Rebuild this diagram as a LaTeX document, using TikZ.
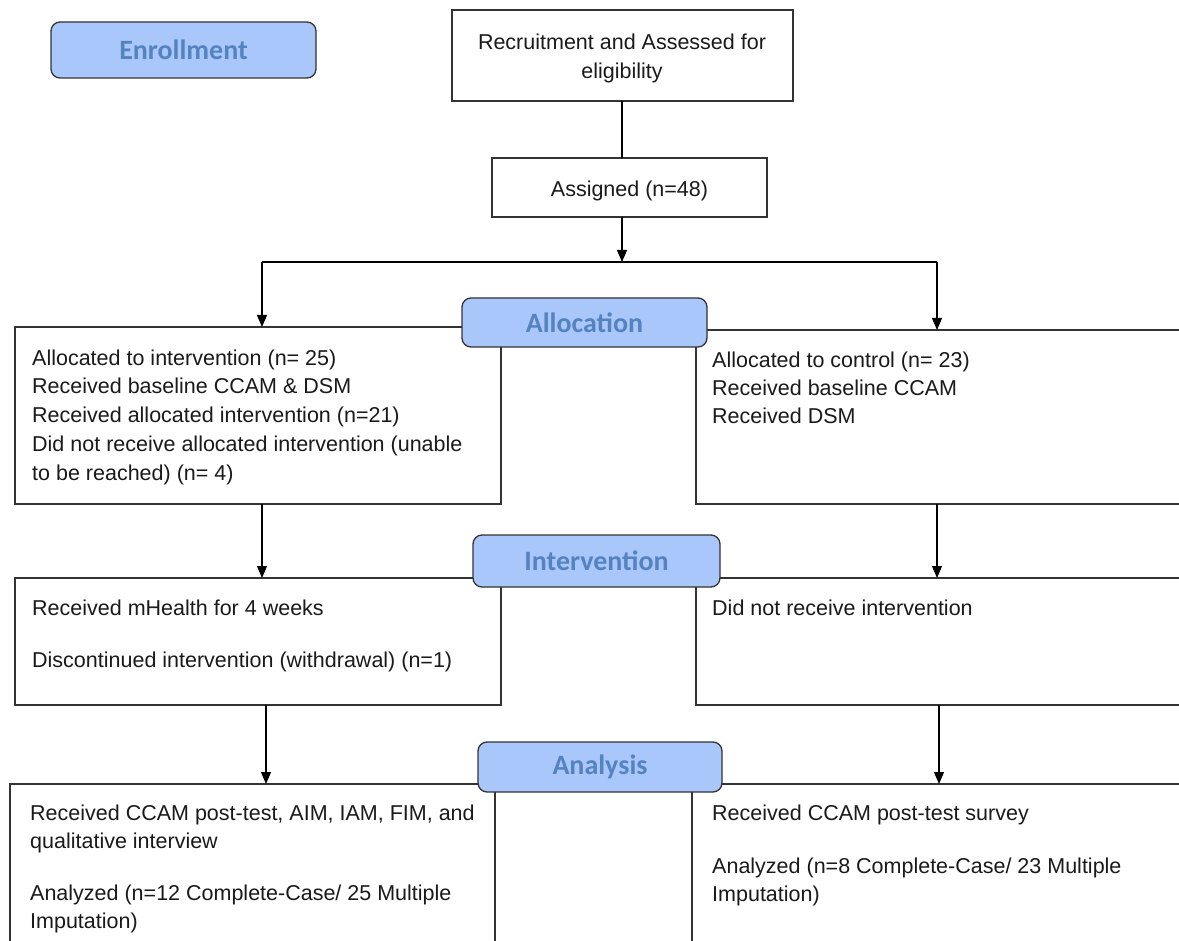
\documentclass[tikz,border=0pt]{standalone}
\usepackage{fontspec}
\setmainfont{Liberation Sans}
\newfontfamily\labfont{Carlito}
\usetikzlibrary{arrows.meta}
\definecolor{labfill}{HTML}{A9C7FA}
\definecolor{labtext}{HTML}{5583BF}
\definecolor{lineclr}{HTML}{333333}
\definecolor{txtclr}{HTML}{1A1A1A}
\tikzset{
  box/.style={draw=lineclr, line width=1.3pt, inner sep=0pt, outer sep=0pt, anchor=north west, fill=white},
  labbox/.style={draw=lineclr, line width=1.3pt, fill=labfill, rounded corners=9pt, inner sep=0pt, outer sep=0pt, anchor=north west},
  labtxt/.style={font=\labfont\bfseries\fontsize{28}{30}\selectfont, text=labtext, inner sep=0pt},
  txt/.style={font=\fontsize{21.5}{26}\selectfont, text=txtclr, inner sep=0pt, anchor=base west},
  ctxt/.style={font=\fontsize{21.5}{26}\selectfont, text=txtclr, inner sep=0pt, anchor=base},
  arr/.style={line width=1.2pt, draw=black, -{Triangle[length=12pt,width=10pt]}},
  conn/.style={line width=1.2pt, draw=black}
}
\begin{document}
\begin{tikzpicture}[x=1pt,y=-1pt]
\useasboundingbox (0,0) rectangle (1179,941);
\clip (0,0) rectangle (1179,941);
\fill[white] (0,0) rectangle (1179,941);
% top boxes
\node[box, minimum width=341pt, minimum height=91pt] (recruit) at (452,10) {};
\node[ctxt] (rt1) at (622,50) {Recruitment and Assessed for};
\node[ctxt] (rt2) at (622,79) {eligibility};
\node[box, minimum width=275pt, minimum height=59pt] (assigned) at (492,158) {};
\node[ctxt] (at1) at (629.5,197) {Assigned (n=48)};
% coordinates
\coordinate (cx) at (622,0);
\coordinate (split) at (622,262);
\coordinate (xl1) at (262,0);
\coordinate (xr1) at (937,0);
\coordinate (xl2) at (266,0);
\coordinate (xr2) at (939,0);
% level boxes
\node[box, minimum width=486pt, minimum height=177pt] (b1l) at (15,327) {};
\node[box, minimum width=494pt, minimum height=174pt] (b1r) at (696,330) {};
\node[box, minimum width=486pt, minimum height=127pt] (b2l) at (15,578) {};
\node[box, minimum width=494pt, minimum height=127pt] (b2r) at (696,578) {};
\node[box, minimum width=485pt, minimum height=170pt] (b3l) at (10,784) {};
\node[box, minimum width=498pt, minimum height=170pt] (b3r) at (692,784) {};
% connectors
\draw[conn] (recruit.south -| cx) -- (assigned.north -| cx);
\draw[arr] (assigned.south -| cx) -- (split);
\draw[conn] (split -| xl1) -- (split -| xr1);
\draw[arr] (split -| xl1) -- (b1l.north -| xl1);
\draw[arr] (split -| xr1) -- (b1r.north -| xr1);
\draw[arr] (b1l.south -| xl1) -- (b2l.north -| xl1);
\draw[arr] (b1r.south -| xr1) -- (b2r.north -| xr1);
\draw[arr] (b2l.south -| xl2) -- (b3l.north -| xl2);
\draw[arr] (b2r.south -| xr2) -- (b3r.north -| xr2);
% label boxes
\node[labbox, minimum width=265pt, minimum height=56pt] (enroll) at (51,22) {};
\node[labtxt] at (enroll.center) {Enrollment};
\node[labbox, minimum width=245pt, minimum height=49pt] (alloc) at (462,298) {};
\node[labtxt] at (alloc.center) {Allocation};
\node[labbox, minimum width=247pt, minimum height=52pt] (interv) at (473,535) {};
\node[labtxt] at (interv.center) {Intervention};
\node[labbox, minimum width=244pt, minimum height=50pt] (analysis) at (478,742) {};
\node[labtxt] at (analysis.center) {Analysis};
% texts box 1
\node[txt] (t1a) at (32,366) {Allocated to intervention (n= 25)};
\node[txt] (t1b) at (32,394) {Received baseline CCAM \& DSM};
\node[txt] (t1c) at (32,423) {Received allocated intervention (n=21)};
\node[txt] (t1d) at (32,451) {Did not receive allocated intervention (unable};
\node[txt] (t1e) at (32,480) {to be reached) (n= 4)};
\node[txt] (r1a) at (712,368) {Allocated to control (n= 23)};
\node[txt] (r1b) at (712,396) {Received baseline CCAM};
\node[txt] (r1c) at (712,424) {Received DSM};
% texts box 2
\node[txt] (t2a) at (32,615) {Received mHealth for 4 weeks};
\node[txt] (t2b) at (32,667) {Discontinued intervention (withdrawal) (n=1)};
\node[txt] (r2a) at (712,615) {Did not receive intervention};
% texts box 3
\node[txt] (t3a) at (30,820) {Received CCAM post-test, AIM, IAM, FIM, and};
\node[txt] (t3b) at (30,848) {qualitative interview};
\node[txt] (t3c) at (30,900) {Analyzed (n=12 Complete-Case/ 25 Multiple};
\node[txt] (t3d) at (30,928) {Imputation)};
\node[txt] (r3a) at (712,820) {Received CCAM post-test survey};
\node[txt] (r3b) at (712,873) {Analyzed (n=8 Complete-Case/ 23 Multiple};
\node[txt] (r3c) at (712,901) {Imputation)};
\end{tikzpicture}
\end{document}
